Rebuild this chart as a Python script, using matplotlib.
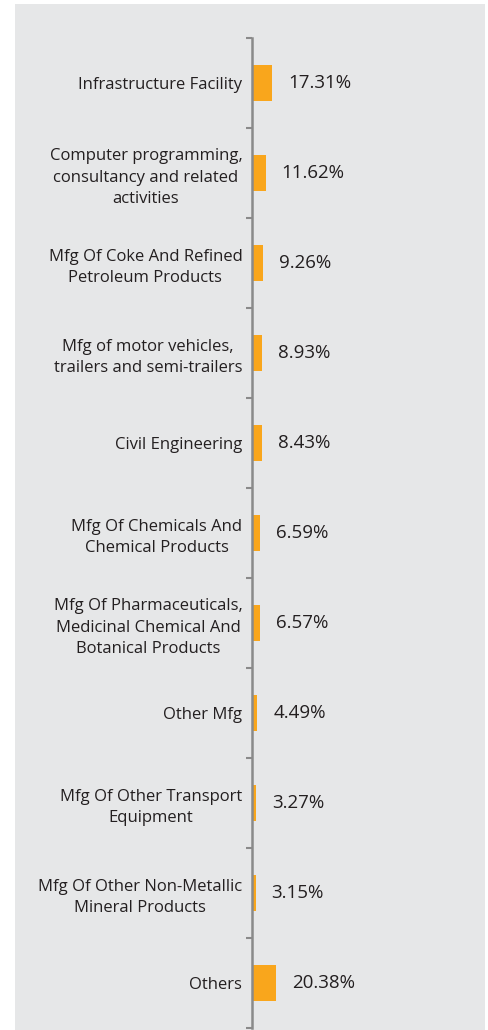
import matplotlib.pyplot as plt
import matplotlib.patches as mpatches

# sector shares, top to bottom
sectors = [
    "Infrastructure Facility",
    "Computer programming,\nconsultancy and related\nactivities",
    "Mfg Of Coke And Refined\nPetroleum Products",
    "Mfg of motor vehicles,\ntrailers and semi-trailers",
    "Civil Engineering",
    "Mfg Of Chemicals And\nChemical Products",
    "Mfg Of Pharmaceuticals,\nMedicinal Chemical And\nBotanical Products",
    "Other Mfg",
    "Mfg Of Other Transport\nEquipment",
    "Mfg Of Other Non-Metallic\nMineral Products",
    "Others",
]
shares = [17.31, 11.62, 9.26, 8.93, 8.43, 6.59, 6.57, 4.49, 3.27, 3.15, 20.38]

bg = "#e6e7e8"
orange = "#f9a61c"
axis_grey = "#8a8a8a"
text_col = "#231f20"

plt.rcParams['font.family'] = ['Open Sans', 'DejaVu Sans']

W, H = 488, 1030
fig = plt.figure(figsize=(W / 100, H / 100), dpi=100)
fig.patch.set_facecolor("white")
# grey panel behind the chart
fig.patches.append(mpatches.Rectangle((15 / W, 0), 470 / W, 1 - 4 / H,
                                      transform=fig.transFigure,
                                      facecolor=bg, edgecolor="none", zorder=-10))

ax = fig.add_axes([252 / W, 1 - 1028 / H, 233 / W, 990 / H])
ax.set_facecolor("none")

n = len(sectors)
pos = list(range(n))
ax.barh(pos, shares, height=0.4, color=orange, left=0.0)
ax.set_ylim(n - 0.5, -0.5)
ax.set_xlim(0, 199)

for p, v in zip(pos, shares):
    ax.annotate(f"{v:.2f}%", (v, p), xytext=(11.5, 0), textcoords="offset points",
                va="center", ha="left", fontsize=13.5, color=text_col)

ax.set_yticks(pos)
ax.set_yticklabels(sectors, fontsize=12, color=text_col, linespacing=1.45,
                   multialignment="center")
ax.set_yticks([p - 0.5 for p in pos] + [n - 0.5], minor=True)
ax.tick_params(axis="y", which="major", length=0, pad=7)
ax.tick_params(axis="y", which="minor", length=4, width=1.5, color=axis_grey)
ax.set_xticks([])

for s in ["top", "right", "bottom"]:
    ax.spines[s].set_visible(False)
ax.spines["left"].set_color(axis_grey)
ax.spines["left"].set_linewidth(1.8)

fig.savefig("out.png", dpi=100, facecolor="white")
